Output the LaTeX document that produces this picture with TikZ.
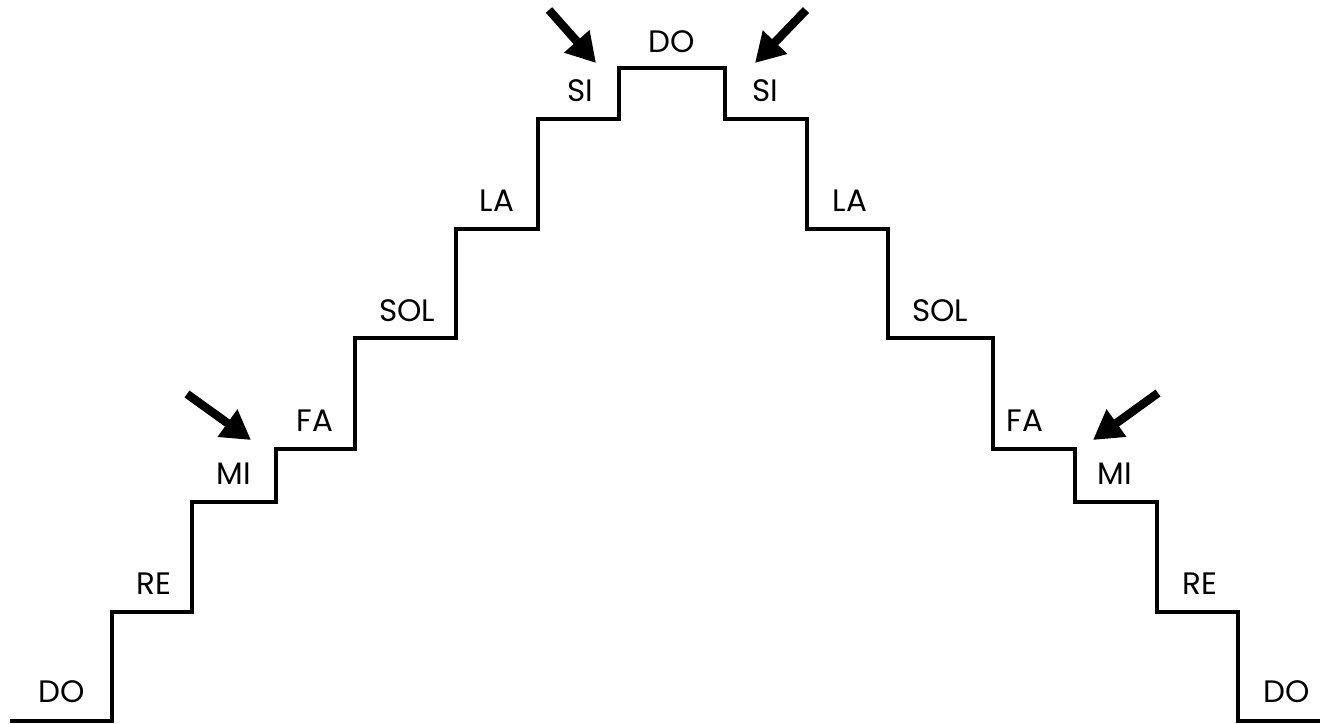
\documentclass[tikz,border=0pt]{standalone}
\usepackage{fontspec}
\setmainfont{Poppins}
\usetikzlibrary{arrows.meta,positioning}

\tikzset{
  note/.style={font=\fontsize{31}{34}\selectfont, inner sep=0pt},
  pointer/.style={line width=8.5pt, -{Triangle[length=29pt,width=32pt]}}
}

\begin{document}
\begin{tikzpicture}[x=1pt,y=-1pt]
    \useasboundingbox (0,0) rectangle (1321,723);

    % the stairs
    \draw [line width=4pt, line join=miter]
        (10,721) -- (112,721) -- (112,612) -- (192,612) -- (192,502)
        -- (276,502) -- (276,449) -- (355,449) -- (355,338)
        -- (456,338) -- (456,229) -- (538,229) -- (538,119)
        -- (619,119) -- (619,68) -- (725,68) -- (725,119)
        -- (807,119) -- (807,229) -- (888,229) -- (888,338)
        -- (993,338) -- (993,449) -- (1075,449) -- (1075,502)
        -- (1157,502) -- (1157,612) -- (1238,612) -- (1238,721)
        -- (1320,721);

    % notes going up
    \node [note] (do1) at (62,692) {DO};
    \node [note] (re1) at (154,584) {RE};
    \node [note] (mi1) at (234,474) {MI};
    \node [note] (fa1) at (315,421) {FA};
    \node [note] (sol1) at (407,311) {SOL};
    \node [note] (la1) at (497,201) {LA};
    \node [note] (si1) at (580,91) {SI};
    \node [note] (do2) at (672,42) {DO};
    % notes going down
    \node [note] (si2) at (765,91) {SI};
    \node [note] (la2) at (850,201) {LA};
    \node [note] (sol2) at (940,311) {SOL};
    \node [note] (fa2) at (1025,421) {FA};
    \node [note] (mi2) at (1115,474) {MI};
    \node [note] (re2) at (1200,584) {RE};
    \node [note] (do3) at (1287,692) {DO};

    % half steps
    \coordinate (h1) at (187,394);
    \coordinate (h1t) at (251,440);
    \coordinate (h2) at (549,10);
    \coordinate (h2t) at (596,63);
    \coordinate (h3) at (806,10);
    \coordinate (h3t) at (755,63);
    \coordinate (h4) at (1158,393);
    \coordinate (h4t) at (1093,440);
    \draw [pointer] (h1) -- (h1t);
    \draw [pointer] (h2) -- (h2t);
    \draw [pointer] (h3) -- (h3t);
    \draw [pointer] (h4) -- (h4t);
\end{tikzpicture}
\end{document}
